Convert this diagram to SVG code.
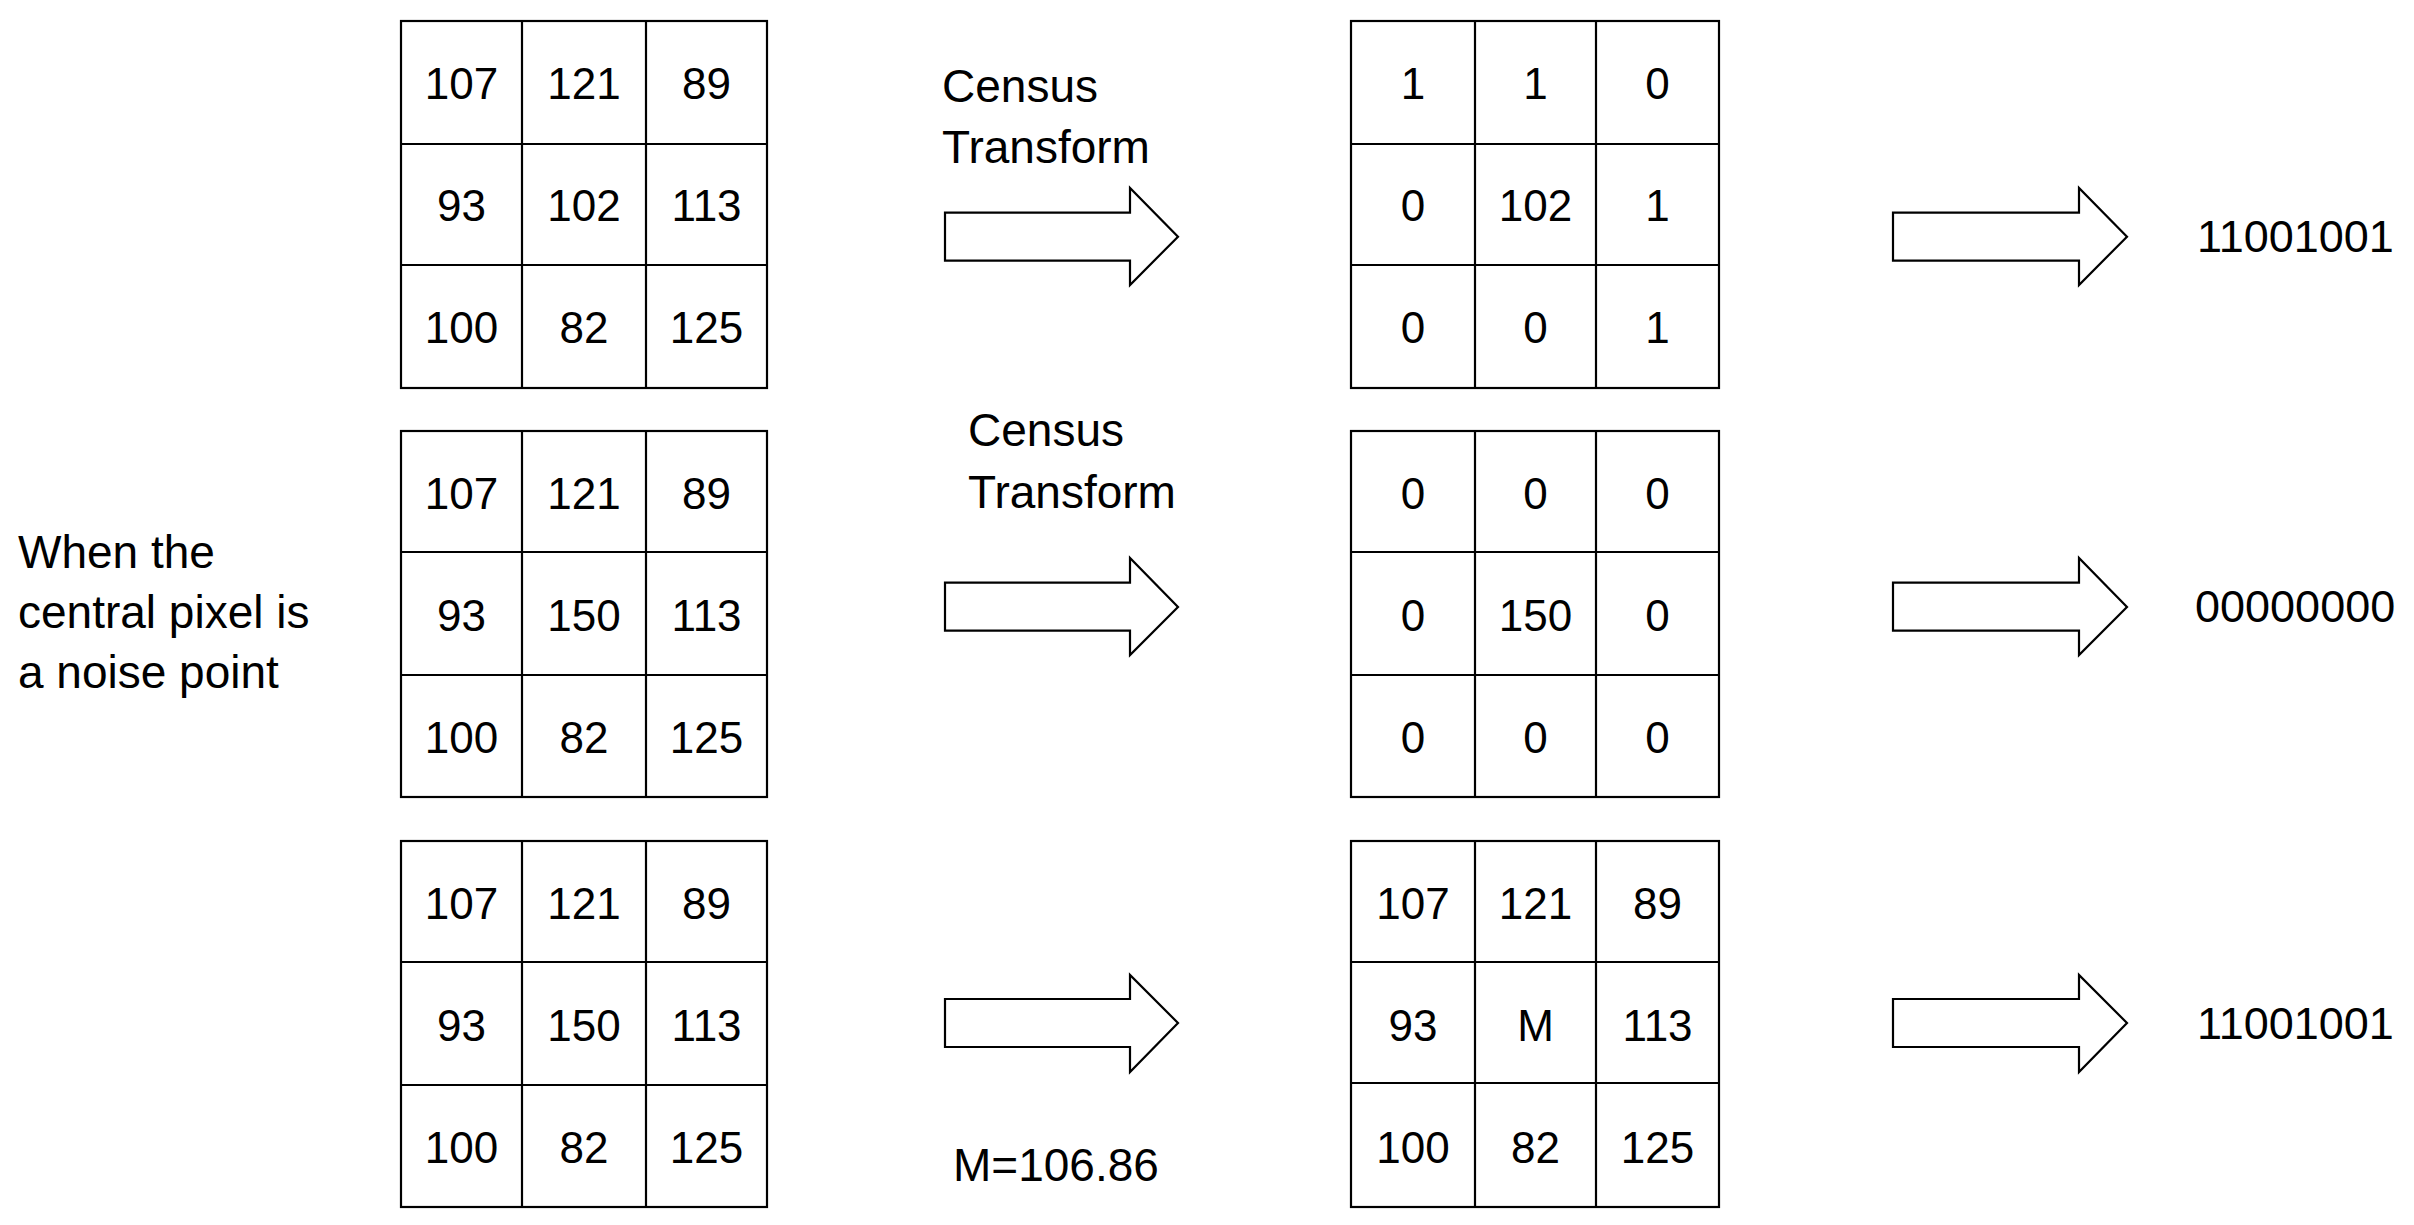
<svg xmlns="http://www.w3.org/2000/svg" width="2414" height="1225" viewBox="0 0 2414 1225">
<style>
.g{fill:none;stroke:#000;stroke-width:2.2}
.c{font-family:"Liberation Sans",Arial,sans-serif;font-size:44px;fill:#000;text-anchor:middle}
.t{font-family:"Liberation Sans",Arial,sans-serif;font-size:46px;fill:#000}
.b{font-family:"Liberation Sans",Arial,sans-serif;font-size:45px;fill:#000}
.a{fill:#fff;stroke:#000;stroke-width:2.2;stroke-linejoin:miter}
</style>
<rect width="2414" height="1225" fill="#fff"/>

<g id="grid-r1-input">
<rect class="g" x="401" y="21" width="366" height="367"/>
<path class="g" d="M522 21V388M646 21V388M401 144H767M401 265H767"/>
<text class="c" x="461.5" y="99">107</text><text class="c" x="584" y="99">121</text><text class="c" x="706.5" y="99">89</text>
<text class="c" x="461.5" y="221">93</text><text class="c" x="584" y="221">102</text><text class="c" x="706.5" y="221">113</text>
<text class="c" x="461.5" y="343">100</text><text class="c" x="584" y="343">82</text><text class="c" x="706.5" y="343">125</text>
</g>

<g id="grid-r1-output">
<rect class="g" x="1351" y="21" width="368" height="367"/>
<path class="g" d="M1475 21V388M1596 21V388M1351 144H1719M1351 265H1719"/>
<text class="c" x="1413" y="99">1</text><text class="c" x="1535.5" y="99">1</text><text class="c" x="1657.5" y="99">0</text>
<text class="c" x="1413" y="221">0</text><text class="c" x="1535.5" y="221">102</text><text class="c" x="1657.5" y="221">1</text>
<text class="c" x="1413" y="343">0</text><text class="c" x="1535.5" y="343">0</text><text class="c" x="1657.5" y="343">1</text>
</g>

<g id="grid-r2-input">
<rect class="g" x="401" y="431" width="366" height="366"/>
<path class="g" d="M522 431V797M646 431V797M401 552H767M401 675H767"/>
<text class="c" x="461.5" y="509">107</text><text class="c" x="584" y="509">121</text><text class="c" x="706.5" y="509">89</text>
<text class="c" x="461.5" y="631">93</text><text class="c" x="584" y="631">150</text><text class="c" x="706.5" y="631">113</text>
<text class="c" x="461.5" y="753">100</text><text class="c" x="584" y="753">82</text><text class="c" x="706.5" y="753">125</text>
</g>

<g id="grid-r2-output">
<rect class="g" x="1351" y="431" width="368" height="366"/>
<path class="g" d="M1475 431V797M1596 431V797M1351 552H1719M1351 675H1719"/>
<text class="c" x="1413" y="509">0</text><text class="c" x="1535.5" y="509">0</text><text class="c" x="1657.5" y="509">0</text>
<text class="c" x="1413" y="631">0</text><text class="c" x="1535.5" y="631">150</text><text class="c" x="1657.5" y="631">0</text>
<text class="c" x="1413" y="753">0</text><text class="c" x="1535.5" y="753">0</text><text class="c" x="1657.5" y="753">0</text>
</g>

<g id="grid-r3-input">
<rect class="g" x="401" y="841" width="366" height="366"/>
<path class="g" d="M522 841V1207M646 841V1207M401 962H767M401 1085H767"/>
<text class="c" x="461.5" y="919">107</text><text class="c" x="584" y="919">121</text><text class="c" x="706.5" y="919">89</text>
<text class="c" x="461.5" y="1041">93</text><text class="c" x="584" y="1041">150</text><text class="c" x="706.5" y="1041">113</text>
<text class="c" x="461.5" y="1163">100</text><text class="c" x="584" y="1163">82</text><text class="c" x="706.5" y="1163">125</text>
</g>

<g id="grid-r3-output">
<rect class="g" x="1351" y="841" width="368" height="366"/>
<path class="g" d="M1475 841V1207M1596 841V1207M1351 962H1719M1351 1083H1719"/>
<text class="c" x="1413" y="919">107</text><text class="c" x="1535.5" y="919">121</text><text class="c" x="1657.5" y="919">89</text>
<text class="c" x="1413" y="1041">93</text><text class="c" x="1535.5" y="1041">M</text><text class="c" x="1657.5" y="1041">113</text>
<text class="c" x="1413" y="1163">100</text><text class="c" x="1535.5" y="1163">82</text><text class="c" x="1657.5" y="1163">125</text>
</g>

<g id="label-noise">
<text class="t" x="18" y="568">When the</text>
<text class="t" x="18" y="628">central pixel is</text>
<text class="t" x="18" y="688">a noise point</text>
</g>

<g id="label-census-1">
<text class="t" x="942" y="102">Census</text>
<text class="t" x="942" y="163">Transform</text>
</g>
<g id="label-census-2">
<text class="t" x="968" y="446">Census</text>
<text class="t" x="968" y="508">Transform</text>
</g>
<g id="label-m">
<text class="t" x="953" y="1181">M=106.86</text>
</g>

<g id="code-1"><text class="b" x="2197" y="252">11001001</text></g>
<g id="code-2"><text class="b" x="2195" y="622">00000000</text></g>
<g id="code-3"><text class="b" x="2197" y="1039">11001001</text></g>

<g id="connectors">
<polygon class="a" points="945,212.7 1130,212.7 1130,188 1178,236.7 1130,285 1130,260.7 945,260.7"/>
<polygon class="a" points="1893,212.7 2079,212.7 2079,188 2127,236.7 2079,285 2079,260.7 1893,260.7"/>
<polygon class="a" points="945,582.7 1130,582.7 1130,558 1178,607 1130,655 1130,630.7 945,630.7"/>
<polygon class="a" points="1893,582.7 2079,582.7 2079,558 2127,607 2079,655 2079,630.7 1893,630.7"/>
<polygon class="a" points="945,999 1130,999 1130,975 1178,1023 1130,1072 1130,1047 945,1047"/>
<polygon class="a" points="1893,999 2079,999 2079,975 2127,1023 2079,1072 2079,1047 1893,1047"/>
</g>
</svg>
